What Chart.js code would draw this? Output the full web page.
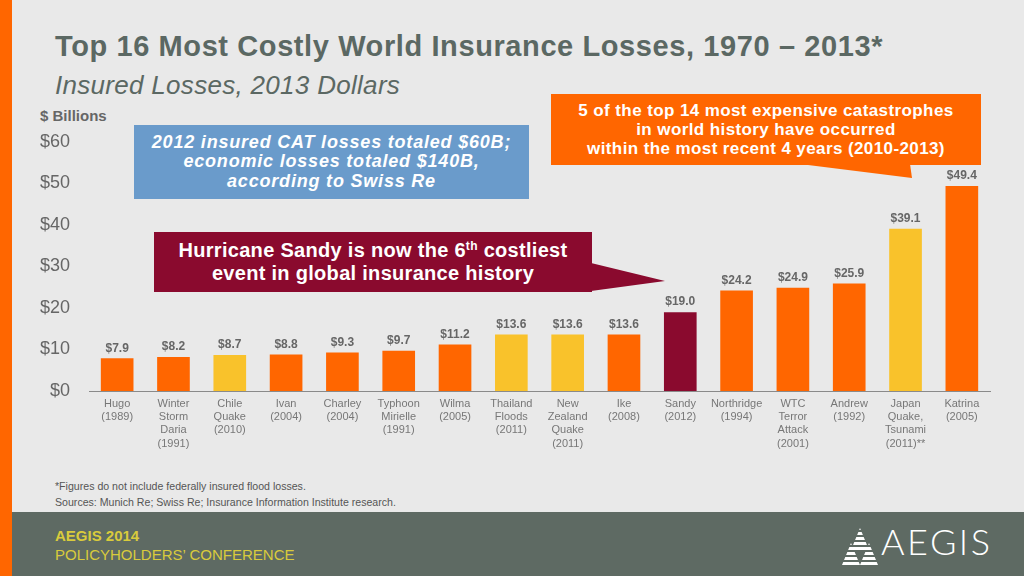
<!DOCTYPE html>
<html>
<head>
<meta charset="utf-8">
<script src="https://cdn.jsdelivr.net/npm/chart.js@4.4.1/dist/chart.umd.min.js"></script>
<style>
  html,body{margin:0;padding:0;}
  body{width:1024px;height:576px;position:relative;overflow:hidden;background:#E9E9E9;font-family:"Liberation Sans",Arial,sans-serif;}
  .abs{position:absolute;}
  #stripe{left:0;top:0;width:12px;height:576px;background:#FF6600;z-index:5;}
  #footer{left:0;top:512px;width:1024px;height:64px;background:#5E6A63;}
  #title{left:55px;top:30px;font-size:29px;line-height:32px;letter-spacing:0.6px;font-weight:bold;color:#5B6863;white-space:nowrap;}
  #subtitle{left:55px;top:70px;font-size:26px;line-height:30px;letter-spacing:0.3px;font-style:italic;color:#5B6863;white-space:nowrap;}
  #unit{left:40px;top:108px;font-size:15px;line-height:16px;font-weight:bold;color:#666;}
  canvas{position:absolute;left:0;top:0;z-index:1;}
  .box{z-index:3;color:#fff;font-weight:bold;text-align:center;display:flex;flex-direction:column;justify-content:center;white-space:nowrap;}
  #blue{left:134px;top:125px;width:395px;height:74px;background:#6A9BCB;font-style:italic;font-size:18px;line-height:19.5px;letter-spacing:0.8px;}
  #orange{left:551px;top:94px;width:430px;height:71px;background:#FF6600;font-size:17px;line-height:19px;letter-spacing:0.4px;}
  #maroon{left:154px;top:232px;width:438px;height:60px;background:#8A0A2E;font-size:20px;line-height:23px;letter-spacing:0.3px;}
  sup{font-size:0.6em;line-height:0;position:relative;top:-0.55em;vertical-align:baseline;}
  svg.tail{position:absolute;left:0;top:0;z-index:3;}
  .fn{left:55px;font-size:10.6px;line-height:14px;color:#555;white-space:nowrap;}
  #f1{top:479px;}
  #f2{top:495px;}
  #a1{left:55px;top:528px;font-size:15px;line-height:16px;font-weight:bold;color:#D9CB3C;}
  #a2{left:55px;top:547px;font-size:15px;line-height:16px;color:#D9CB3C;}
  #logo{left:881px;top:521px;font-family:Lato,"Liberation Sans",sans-serif;font-weight:300;font-size:36px;line-height:40px;letter-spacing:2.5px;color:#fff;}
</style>
</head>
<body>
<div id="footer" class="abs"></div>
<div id="stripe" class="abs"></div>
<div id="title" class="abs">Top 16 Most Costly World Insurance Losses, 1970 – 2013*</div>
<div id="subtitle" class="abs">Insured Losses, 2013 Dollars</div>
<div id="unit" class="abs">$ Billions</div>
<canvas id="c" width="1024" height="576"></canvas>
<svg class="tail" width="1024" height="576">
  <polygon points="800,164 910,164 912,178" fill="#FF6600"/>
  <polygon points="591,263 591,291 665,281" fill="#8A0A2E"/>
</svg>
<div id="blue" class="abs box"><div>2012 insured CAT losses totaled $60B;</div><div>economic losses totaled $140B,</div><div>according to Swiss Re</div></div>
<div id="orange" class="abs box"><div>5 of the top 14 most expensive catastrophes</div><div>in world history have occurred</div><div>within the most recent 4 years (2010-2013)</div></div>
<div id="maroon" class="abs box"><div>Hurricane Sandy is now the 6<sup>th</sup> costliest</div><div>event in global insurance history</div></div>
<div id="f1" class="abs fn">*Figures do not include federally insured flood losses.</div>
<div id="f2" class="abs fn">Sources: Munich Re; Swiss Re; Insurance Information Institute research.</div>
<div id="a1" class="abs">AEGIS 2014</div>
<div id="a2" class="abs">POLICYHOLDERS’ CONFERENCE</div>
<svg class="abs" style="left:842px;top:526px;z-index:3" width="36" height="42">
  <defs>
    <mask id="m">
      <rect x="0" y="0" width="36" height="42" fill="white"/>
      <g fill="black">
        <rect x="0" y="4" width="36" height="2"/>
        <rect x="0" y="9" width="36" height="2"/>
        <rect x="0" y="14" width="36" height="2"/>
        <rect x="0" y="19" width="36" height="2"/>
        <rect x="0" y="24" width="36" height="2"/>
        <rect x="0" y="29" width="36" height="2"/>
        <rect x="0" y="34" width="36" height="2"/>
      </g>
    </mask>
  </defs>
  <g fill="#fff" mask="url(#m)">
    <polygon points="18,2 27,24 9,24"/>
    <polygon points="9,17 18,39 0,39"/>
    <polygon points="27,17 36,39 18,39"/>
  </g>
</svg>
<div id="logo" class="abs">AEGIS</div>
<script>
const categories = [
  ["Hugo","(1989)"],
  ["Winter","Storm","Daria","(1991)"],
  ["Chile","Quake","(2010)"],
  ["Ivan","(2004)"],
  ["Charley","(2004)"],
  ["Typhoon","Mirielle","(1991)"],
  ["Wilma","(2005)"],
  ["Thailand","Floods","(2011)"],
  ["New","Zealand","Quake","(2011)"],
  ["Ike","(2008)"],
  ["Sandy","(2012)"],
  ["Northridge","(1994)"],
  ["WTC","Terror","Attack","(2001)"],
  ["Andrew","(1992)"],
  ["Japan","Quake,","Tsunami","(2011)**"],
  ["Katrina","(2005)"]
];
const losses = [7.9, 8.2, 8.7, 8.8, 9.3, 9.7, 11.2, 13.6, 13.6, 13.6, 19.0, 24.2, 24.9, 25.9, 39.1, 49.4];
const barColors = ["#FF6600","#FF6600","#F9C22B","#FF6600","#FF6600","#FF6600","#FF6600","#F9C22B","#F9C22B","#FF6600","#8A0A2E","#FF6600","#FF6600","#FF6600","#F9C22B","#FF6600"];
const yTicks = [0, 10, 20, 30, 40, 50, 60];

const valueLabels = {
  id: 'valueLabels',
  afterDatasetsDraw(chart) {
    const ctx = chart.ctx;
    const meta = chart.getDatasetMeta(0);
    ctx.save();
    ctx.font = 'bold 12px "Liberation Sans", Arial, sans-serif';
    ctx.fillStyle = '#666';
    ctx.textAlign = 'center';
    ctx.textBaseline = 'bottom';
    meta.data.forEach((bar, i) => {
      ctx.fillText('$' + losses[i].toFixed(1), bar.x, bar.y - 4);
    });
    ctx.restore();
  }
};

new Chart(document.getElementById('c'), {
  type: 'bar',
  data: {
    labels: categories,
    datasets: [{
      data: losses,
      backgroundColor: barColors,
      borderWidth: 0,
      barPercentage: 0.58,
      categoryPercentage: 1
    }]
  },
  options: {
    responsive: false,
    animation: false,
    layout: { padding: { top: 142, right: 34, left: 0, bottom: 0 } },
    plugins: { legend: { display: false }, tooltip: { enabled: false } },
    scales: {
      x: {
        grid: { display: false, drawTicks: false },
        border: { display: true, color: '#8a8a8a', width: 1 },
        ticks: {
          autoSkip: false, maxRotation: 0, minRotation: 0, padding: 6,
          color: '#777',
          font: { family: '"Liberation Sans", Arial, sans-serif', size: 11, lineHeight: 1.21 }
        },
        afterFit(s) { s.height = 185; s.paddingLeft = 0; s.paddingRight = 0; }
      },
      y: {
        min: 0, max: 60,
        grid: { display: false, drawTicks: false },
        border: { display: false },
        afterBuildTicks(s) { s.ticks = yTicks.map(v => ({ value: v })); },
        ticks: {
          padding: 19,
          color: '#666',
          font: { family: '"Liberation Sans", Arial, sans-serif', size: 18 },
          callback: v => '$' + v
        },
        afterFit(s) { s.width = 89; s.paddingTop = 0; s.paddingBottom = 0; }
      }
    }
  },
  plugins: [valueLabels]
});
</script>
</body>
</html>
